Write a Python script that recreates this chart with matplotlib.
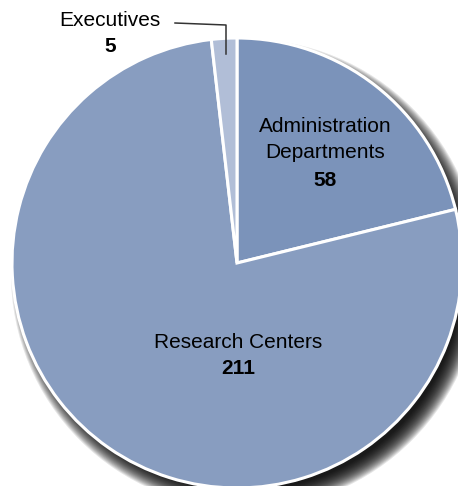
import matplotlib.pyplot as plt
from matplotlib.patches import Circle

labels = ["Administration\nDepartments", "Research Centers", "Executives"]
values = [58, 211, 5]
colors = ["#7b93ba", "#889dc0", "#b1bed7"]

W, H = 458, 486
cx, cy, r = 237, H - 263, 225

fig = plt.figure(figsize=(W / 100, H / 100), dpi=100)
ax = fig.add_axes([0, 0, 1, 1])

# soft shadow behind the pie
n = 20
for i in range(n):
    ax.add_patch(Circle((cx + 9, cy - 11), r + 10 - i, color="black",
                        alpha=0.1, lw=0, zorder=0))

wedges, _ = ax.pie(values, colors=colors, startangle=90, counterclock=False,
                   center=(cx, cy), radius=r, frame=True,
                   wedgeprops=dict(edgecolor="white", linewidth=2.2))
for w in wedges:
    w.set_zorder(2)

font = dict(family=["Liberation Sans", "DejaVu Sans"], fontsize=15, color="black")

ax.text(325, H - 127, "Administration", ha="center", va="center", **font)
ax.text(325, H - 153, "Departments", ha="center", va="center", **font)
ax.text(325, H - 180, str(values[0]), ha="center", va="center", fontweight="bold", **font)

ax.text(238, H - 343, labels[1], ha="center", va="center", **font)
ax.text(238, H - 369, str(values[1]), ha="center", va="center", fontweight="bold", **font)

ax.text(110, H - 20, labels[2], ha="center", va="center", **font)
ax.text(110, H - 46, str(values[2]), ha="center", va="center", fontweight="bold", **font)
ax.plot([175, 226, 226], [H - 23, H - 25, H - 54], color="#333333", lw=1.1, zorder=3)

ax.set_xlim(0, W)
ax.set_ylim(0, H)
ax.axis("off")

fig.savefig("out.png", dpi=100, facecolor="white")
